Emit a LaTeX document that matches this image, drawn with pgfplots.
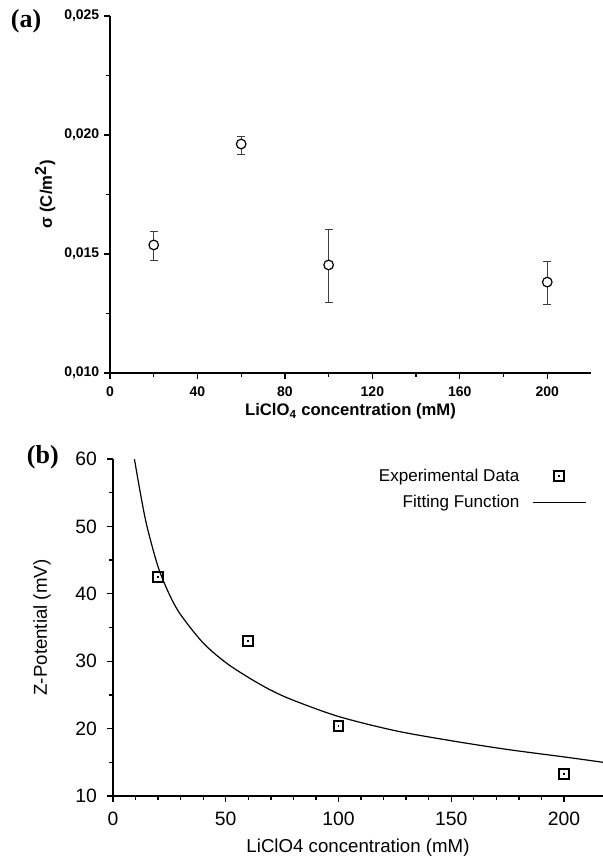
\documentclass[border=0pt]{standalone}
\usepackage{fontspec}
\setmainfont{Liberation Sans}
\newfontfamily\timesfont{Liberation Serif}
\usepackage{pgfplots}
\pgfplotsset{compat=1.18}

% open square with a small dot in the middle
\pgfdeclareplotmark{sqdot}{%
  \pgfpathrectangle{\pgfqpoint{-\pgfplotmarksize}{-\pgfplotmarksize}}{\pgfqpoint{2\pgfplotmarksize}{2\pgfplotmarksize}}%
  \pgfusepathqstroke
  \pgfpathrectangle{\pgfqpoint{-0.7pt}{-0.7pt}}{\pgfqpoint{1.4pt}{1.4pt}}%
  \pgfusepathqfill}

\pgfplotsset{
  markleg/.style={legend image code/.code={\path[draw=none,fill=none] (0pt,-1pt) rectangle (48pt,1pt);\draw[##1] plot coordinates {(28pt,0pt)};}},
  lineleg/.style={legend image code/.code={\path[draw=none,fill=none] (0pt,-1pt) rectangle (48pt,1pt);\draw[##1] (8pt,0pt) -- (48pt,0pt);}},
}

\begin{document}
\begin{tikzpicture}
\useasboundingbox (0,0) rectangle (452.25pt,642.75pt);

% ---- panel (a)
\begin{axis}[
    at={(82.5pt,363pt)}, anchor=south west,
    width=360.75pt, height=267.75pt, scale only axis,
    xmin=0, xmax=220, ymin=0.010, ymax=0.025,
    xtick={0,40,...,200}, ytick={0.010,0.015,0.020,0.025},
    minor x tick num=1, minor y tick num=1,
    axis x line*=bottom, axis y line*=left,
    axis line style={line width=1.4pt},
    tick align=outside,
    major tick length=4.5pt, minor tick length=3pt,
    every tick/.style={line width=1pt, black},
    scaled y ticks=false,
    yticklabel style={/pgf/number format/.cd, fixed, fixed zerofill, precision=3, use comma},
    xticklabel style={yshift=-2pt},
    /pgf/number format/assume math mode=true,
    tick label style={font=\fontsize{10.5}{12}\selectfont\bfseries},
    label style={font=\fontsize{12.5}{15}\selectfont\bfseries},
    xlabel style={at={(axis description cs:0.5,-0.108)}, anchor=center},
    ylabel style={at={(axis description cs:-0.135,0.5)}, anchor=center},
    xlabel={LiClO\textsubscript{4} concentration (mM)},
    ylabel={σ (C/m\textsuperscript{\large 2})},
  ]
\addplot[black, line width=0.9pt, only marks, mark=*, mark size=3.6pt,
    mark options={fill=white, draw=black},
    error bars/.cd, y dir=both, y explicit,
    error bar style={line width=0.5pt, black!75},
    error mark options={rotate=90, mark size=3pt, line width=0.5pt, black!75}]
  coordinates {
  (20,0.01538)  += (0,0.00059) -= (0,0.00063)
  (60,0.01962)  += (0,0.00034) -= (0,0.00042)
  (100,0.01454) += (0,0.00151) -= (0,0.00156)
  (200,0.01382) += (0,0.00089) -= (0,0.00092)};
\end{axis}

% ---- panel (b)
\begin{axis}[
    at={(84.75pt,45.75pt)}, anchor=south west,
    width=367.5pt, height=252.75pt, scale only axis,
    xmin=0, xmax=217.3, ymin=10, ymax=60,
    xtick={0,50,...,200}, ytick={10,20,...,60},
    minor x tick num=4, minor y tick num=1,
    axis x line*=bottom, axis y line*=left,
    axis line style={line width=1.6pt},
    tick align=outside,
    major tick length=4.5pt, minor tick length=3pt,
    every tick/.style={line width=1pt, black},
    /pgf/number format/assume math mode=true,
    tick label style={font=\fontsize{14.5}{16}\selectfont},
    xticklabel style={yshift=-4pt},
    yticklabel style={xshift=-4pt},
    label style={font=\fontsize{14}{16}\selectfont},
    xlabel style={at={(axis description cs:0.5,-0.154)}, anchor=center},
    ylabel style={at={(axis description cs:-0.145,0.5)}, anchor=center},
    xlabel={LiClO4 concentration (mM)},
    ylabel={Z-Potential (mV)},
    legend plot pos=right, legend cell align=right,
    legend style={at={(axis description cs:0.967,0.98)}, anchor=north east,
        draw=none, fill=none, inner sep=0pt, row sep=5pt,
        font=\fontsize{12.8}{15}\selectfont},
  ]
\addlegendimage{black, only marks, mark=sqdot, mark size=3.7pt, line width=1.5pt, markleg}
\addlegendentry{Experimental Data}
\addplot[black, only marks, mark=sqdot, mark size=3.7pt, line width=1.5pt, forget plot]
  coordinates {(20,42.5) (60,33.0) (100,20.4) (200,13.3)};
\addplot[black, line width=0.9pt, smooth, no marks, lineleg]
  coordinates {
  (9.5,60) (12,55.2) (15,50.1) (20,44.0) (25,39.9) (30,36.9) (40,32.7)
  (50,29.8) (60,27.6) (70,25.7) (80,24.2) (100,21.8) (125,19.7)
  (150,18.2) (175,16.9) (200,15.8) (217.3,15.0)};
\addlegendentry{Fitting Function}
\end{axis}

\node[anchor=north west, inner sep=0pt, font=\timesfont\fontsize{19.5}{21}\selectfont\bfseries] at (8pt,636pt) {(a)};
\node[anchor=north west, inner sep=0pt, font=\timesfont\fontsize{19.5}{21}\selectfont\bfseries] at (20pt,309pt) {(b)};
\end{tikzpicture}
\end{document}
